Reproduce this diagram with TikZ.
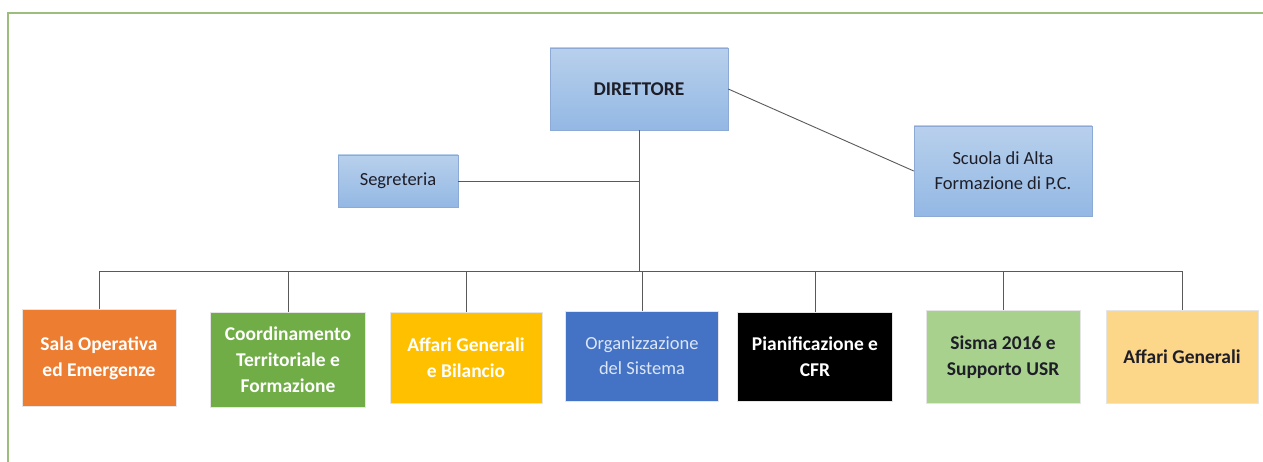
\documentclass[tikz,border=0pt]{standalone}
\usepackage{fontspec}
\setmainfont{Carlito}
\usepackage{tikz}
\definecolor{salaorange}{HTML}{ED7D31}
\definecolor{coordgreen}{HTML}{70AD47}
\definecolor{bilgold}{HTML}{FFC000}
\definecolor{orgblue}{HTML}{4472C4}
\definecolor{sismagreen}{HTML}{A9D18E}
\definecolor{agpeach}{HTML}{FCD689}
\definecolor{orgtext}{HTML}{DCE6F4}
\definecolor{darktext}{HTML}{1E1E28}
\definecolor{boxtop}{HTML}{B8D0EC}
\definecolor{boxbottom}{HTML}{93B8E4}
\definecolor{boxline}{HTML}{8DAAD6}
\definecolor{framegreen}{HTML}{9CBD7C}
\colorlet{linegray}{black!65}

\begin{document}
\begin{tikzpicture}[x=1pt,y=-1pt,
    txt/.style={font=\fontsize{18.5}{25}\selectfont, align=center},
    boldtxt/.style={font=\fontsize{19.5}{26}\selectfont\bfseries, align=center},
    unit/.style={inner sep=0pt, draw=white!90!black, line width=0.3pt},
    head/.style={txt, inner sep=0pt, top color=boxtop, bottom color=boxbottom, draw=boxline, line width=0.5pt},
    conn/.style={linegray, line width=0.9pt}]
        \useasboundingbox (0,0) rectangle (1263,462);
        \draw[framegreen, line width=1.2pt](8,462)--(8,13)--(1263,13);
        \node[head, boldtxt, minimum width=178pt, minimum height=82pt, text=darktext] (direttore) at (639,89) {DIRETTORE};
        \node[head, minimum width=120pt, minimum height=52pt, text=darktext] (segreteria) at (398,181) {Segreteria};
        \node[head, minimum width=178pt, minimum height=90pt, text=darktext] (scuola) at (1003,171) {Scuola di Alta\\Formazione di P.C.};
        \coordinate (bus) at (639,271);
        \draw[conn](direttore.south)--(bus);
        \draw[conn](segreteria.east)--(segreteria.east -| direttore.south);
        \draw[conn](direttore.east)--(scuola.west);
        \foreach \name/\cx/\cy/\w/\h/\col/\tcol/\wt/\lbl in {
            sala/99/358/154/97/salaorange/white/boldtxt/{Sala Operativa\\ed Emergenze},
            coord/288/360/155/95/coordgreen/white/boldtxt/{Coordinamento\\Territoriale e\\Formazione},
            bilancio/466/358/152/91/bilgold/white/boldtxt/{Affari Generali\\e Bilancio},
            org/642/356/153/90/orgblue/orgtext/txt/{Organizzazione\\del Sistema},
            cfr/815/357/155/89/black/white/boldtxt/{Pianificazione e\\CFR},
            sisma/1003/357/154/93/sismagreen/darktext/boldtxt/{Sisma 2016 e\\Supporto USR},
            affari/1182/357/152/93/agpeach/darktext/boldtxt/{Affari Generali}}{
            \node[unit, \wt, fill=\col, text=\tcol, minimum width=\w pt, minimum height=\h pt] (\name) at (\cx,\cy) {\lbl};
            \draw[conn](bus)-|(\name.north);
        }
    \end{tikzpicture}
\end{document}
